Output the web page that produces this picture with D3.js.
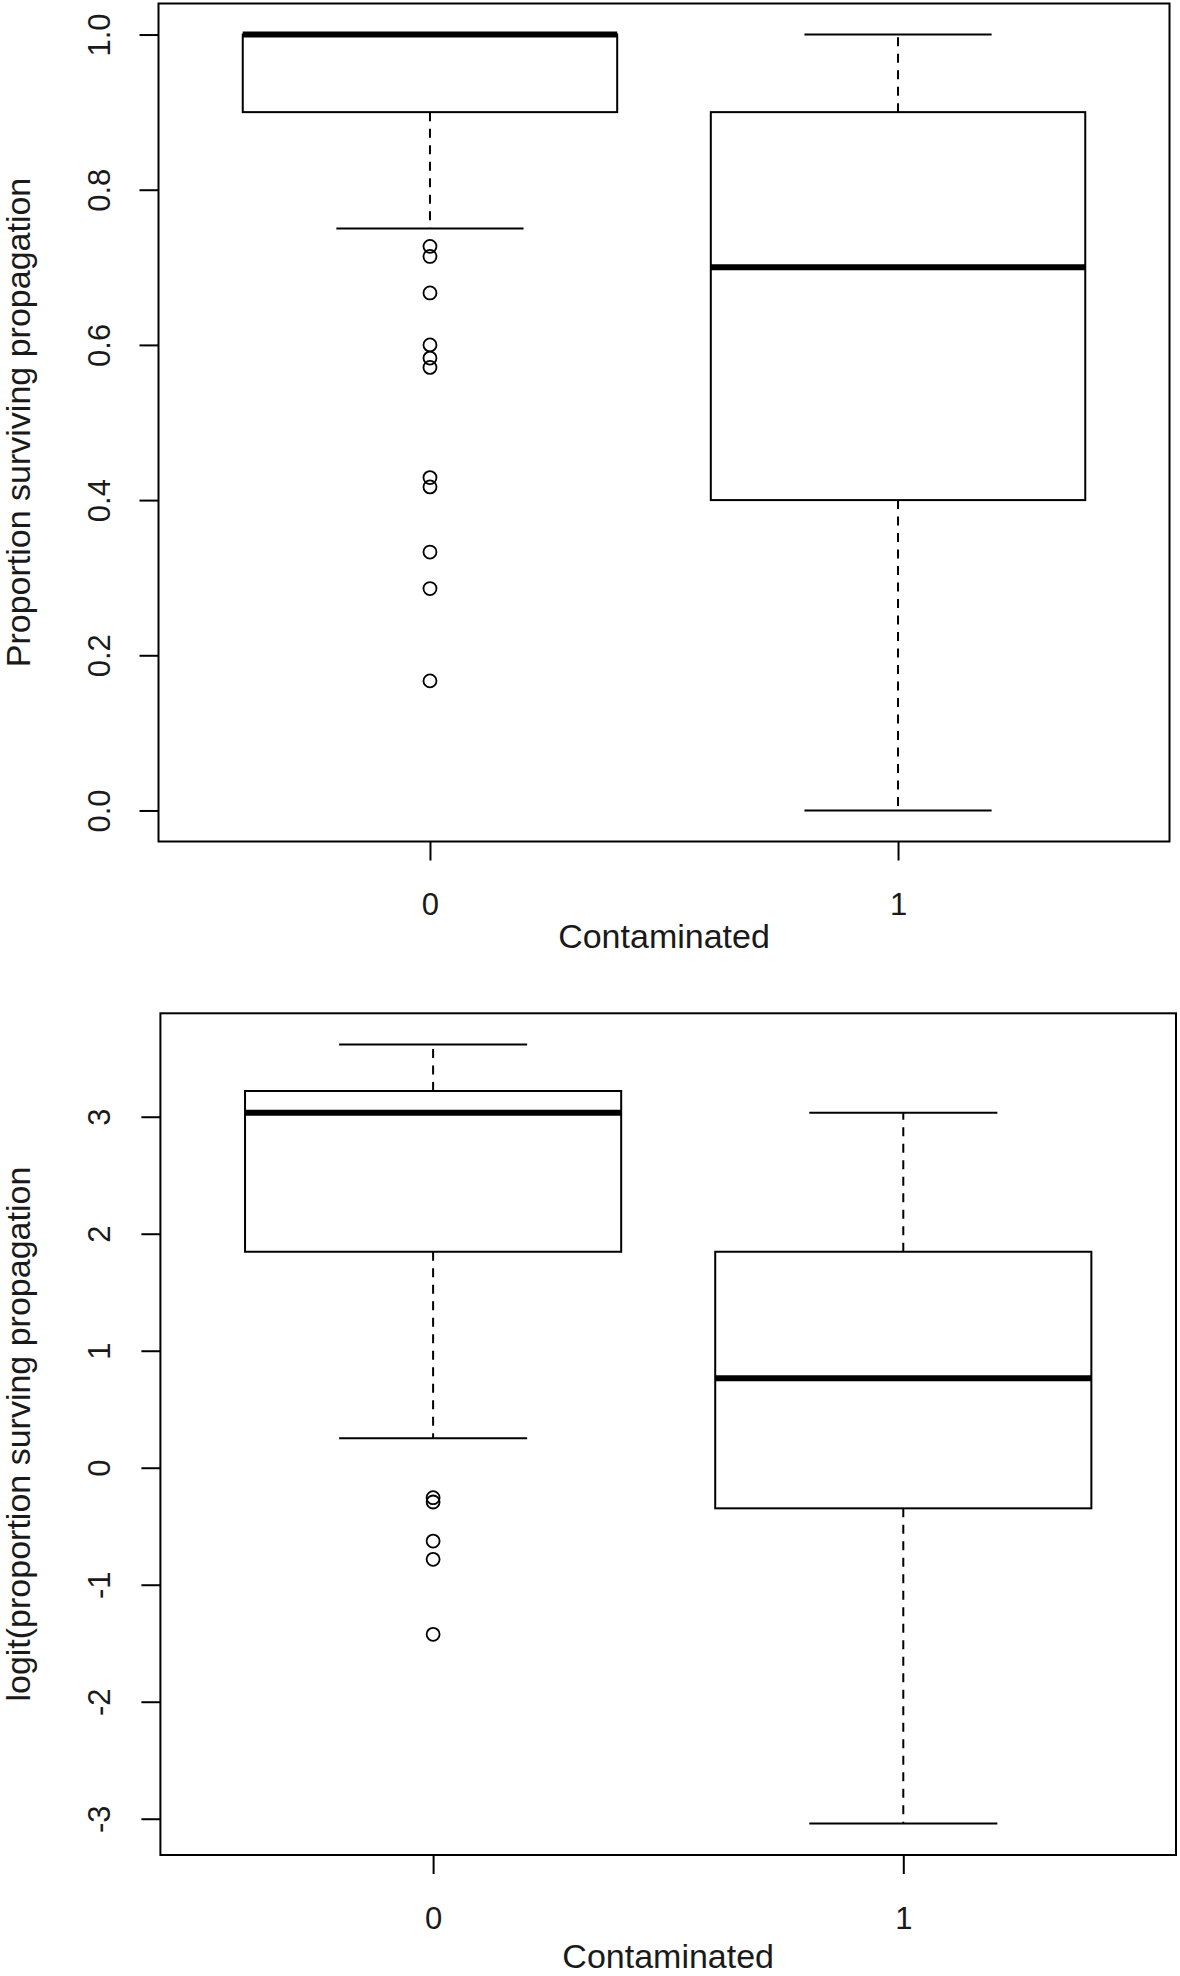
<!DOCTYPE html>
<html>
<head>
<meta charset="utf-8">
<script src="https://cdn.jsdelivr.net/npm/d3@7"></script>
<style>
  html, body { margin: 0; padding: 0; background: #fff; }
  svg { display: block; }
  text { font-family: "Liberation Sans", Arial, Helvetica, sans-serif; fill: #1a1a1a; }
</style>
</head>
<body>
<svg id="chart" width="1180" height="1976"></svg>
<script>
// ---------- DATA ----------
const groups = ["0", "1"];
const xTitle = "Contaminated";

// Top panel: proportion surviving propagation
const propTitle = "Proportion surviving propagation";
const propTicks = [0.0, 0.2, 0.4, 0.6, 0.8, 1.0];
const propTickLabels = ["0.0", "0.2", "0.4", "0.6", "0.8", "1.0"];
const propLowerWhisker = [0.75, 0.0];
const propQ1 = [0.9, 0.4];
const propMedian = [1.0, 0.7];
const propQ3 = [1.0, 0.9];
const propUpperWhisker = [1.0, 1.0];
const propOutliers0 = [0.727, 0.714, 0.667, 0.600, 0.583, 0.571, 0.429, 0.417, 0.333, 0.286, 0.167];
const propOutliers1 = [];

// Bottom panel: logit(proportion surving propagation
const logitTitle = "logit(proportion surving propagation";
const logitTicks = [-3, -2, -1, 0, 1, 2, 3];
const logitTickLabels = ["-3", "-2", "-1", "0", "1", "2", "3"];
const logitLowerWhisker = [0.251, -3.04];
const logitQ1 = [1.846, -0.347];
const logitMedian = [3.034, 0.764];
const logitQ3 = [3.22, 1.846];
const logitUpperWhisker = [3.617, 3.034];
const logitOutliers0 = [-0.256, -0.293, -0.627, -0.783, -1.424];
const logitOutliers1 = [];

// ---------- DRAW ----------
const svg = d3.select("#chart");
svg.append("rect").attr("width", 1180).attr("height", 1976).attr("fill", "#fff");

function panel(cfg) {
  const g = svg.append("g");
  const x = d3.scaleLinear().domain([0.42, 2.58]).range(cfg.xRange);
  const y = d3.scaleLinear().domain(cfg.yDomain).range(cfg.yRange);
  const [L, R] = cfg.xRange;
  const [B, T] = cfg.yRange;
  const ux = x(1) - x(0);
  const boxHalf = 0.4 * ux, capHalf = 0.2 * ux;

  // boxes
  groups.forEach((grp, i) => {
    const cx = x(i + 1);
    const lo = cfg.lower[i], q1 = cfg.q1[i], med = cfg.med[i], q3 = cfg.q3[i], hi = cfg.upper[i];
    // whiskers (dashed)
    if (hi > q3) g.append("line").attr("x1", cx).attr("x2", cx).attr("y1", y(q3)).attr("y2", y(hi))
      .attr("stroke", "#000").attr("stroke-width", 2).attr("stroke-dasharray", "9,7.5");
    if (lo < q1) g.append("line").attr("x1", cx).attr("x2", cx).attr("y1", y(q1)).attr("y2", y(lo))
      .attr("stroke", "#000").attr("stroke-width", 2).attr("stroke-dasharray", "9,7.5");
    // caps
    [lo, hi].forEach(v => g.append("line").attr("x1", cx - capHalf).attr("x2", cx + capHalf)
      .attr("y1", y(v)).attr("y2", y(v)).attr("stroke", "#000").attr("stroke-width", 2));
    // box
    g.append("rect").attr("x", cx - boxHalf).attr("y", y(q3)).attr("width", 2 * boxHalf)
      .attr("height", y(q1) - y(q3)).attr("fill", "none").attr("stroke", "#000").attr("stroke-width", 2);
    // median
    g.append("line").attr("x1", cx - boxHalf).attr("x2", cx + boxHalf).attr("y1", y(med)).attr("y2", y(med))
      .attr("stroke", "#000").attr("stroke-width", 6);
    // outliers
    g.selectAll(null).data(cfg.outliers[i]).enter().append("circle")
      .attr("cx", cx).attr("cy", d => y(d)).attr("r", 6.5)
      .attr("fill", "none").attr("stroke", "#000").attr("stroke-width", 1.8);
  });

  // frame
  g.append("rect").attr("x", L).attr("y", T).attr("width", R - L).attr("height", B - T)
    .attr("fill", "none").attr("stroke", "#000").attr("stroke-width", 2);

  // y axis
  const ya = g.append("g").attr("transform", `translate(${L},0)`)
    .call(d3.axisLeft(y).tickValues(cfg.ticks).tickFormat((d, i) => cfg.tickLabels[i]).tickSize(19));
  ya.select(".domain").remove();
  ya.selectAll(".tick line").attr("stroke", "#000").attr("stroke-width", 2);
  ya.selectAll(".tick text").attr("transform", "rotate(-90)").attr("x", 0).attr("y", 110 - L)
    .attr("dy", 0).attr("text-anchor", "middle").style("font-size", "31px").attr("fill", "#1a1a1a");

  // x axis
  const xa = g.append("g").attr("transform", `translate(0,${B})`)
    .call(d3.axisBottom(x).tickValues([1, 2]).tickFormat((d, i) => groups[i]).tickSize(19));
  xa.select(".domain").remove();
  xa.selectAll(".tick line").attr("stroke", "#000").attr("stroke-width", 2);
  xa.selectAll(".tick text").attr("y", cfg.xLabelBase - B).attr("dy", 0)
    .style("font-size", "31px").attr("fill", "#1a1a1a");

  // titles
  g.append("text").attr("x", (L + R) / 2).attr("y", cfg.xTitleBase).attr("text-anchor", "middle")
    .style("font-size", "34px").text(xTitle);
  g.append("text").attr("transform", `translate(30,${(T + B) / 2}) rotate(-90)`)
    .attr("text-anchor", "middle").style("font-size", "34px").text(cfg.title);
}

panel({
  xRange: [158.5, 1169.5], yRange: [841.5, 3.5], yDomain: [-0.04, 1.04],
  ticks: propTicks, tickLabels: propTickLabels,
  lower: propLowerWhisker, q1: propQ1, med: propMedian, q3: propQ3, upper: propUpperWhisker,
  outliers: [propOutliers0, propOutliers1],
  title: propTitle, xLabelBase: 915, xTitleBase: 948
});

panel({
  xRange: [160.4, 1176], yRange: [1855, 1013.3], yDomain: [-3.31, 3.884],
  ticks: logitTicks, tickLabels: logitTickLabels,
  lower: logitLowerWhisker, q1: logitQ1, med: logitMedian, q3: logitQ3, upper: logitUpperWhisker,
  outliers: [logitOutliers0, logitOutliers1],
  title: logitTitle, xLabelBase: 1929, xTitleBase: 1968
});
</script>
</body>
</html>
